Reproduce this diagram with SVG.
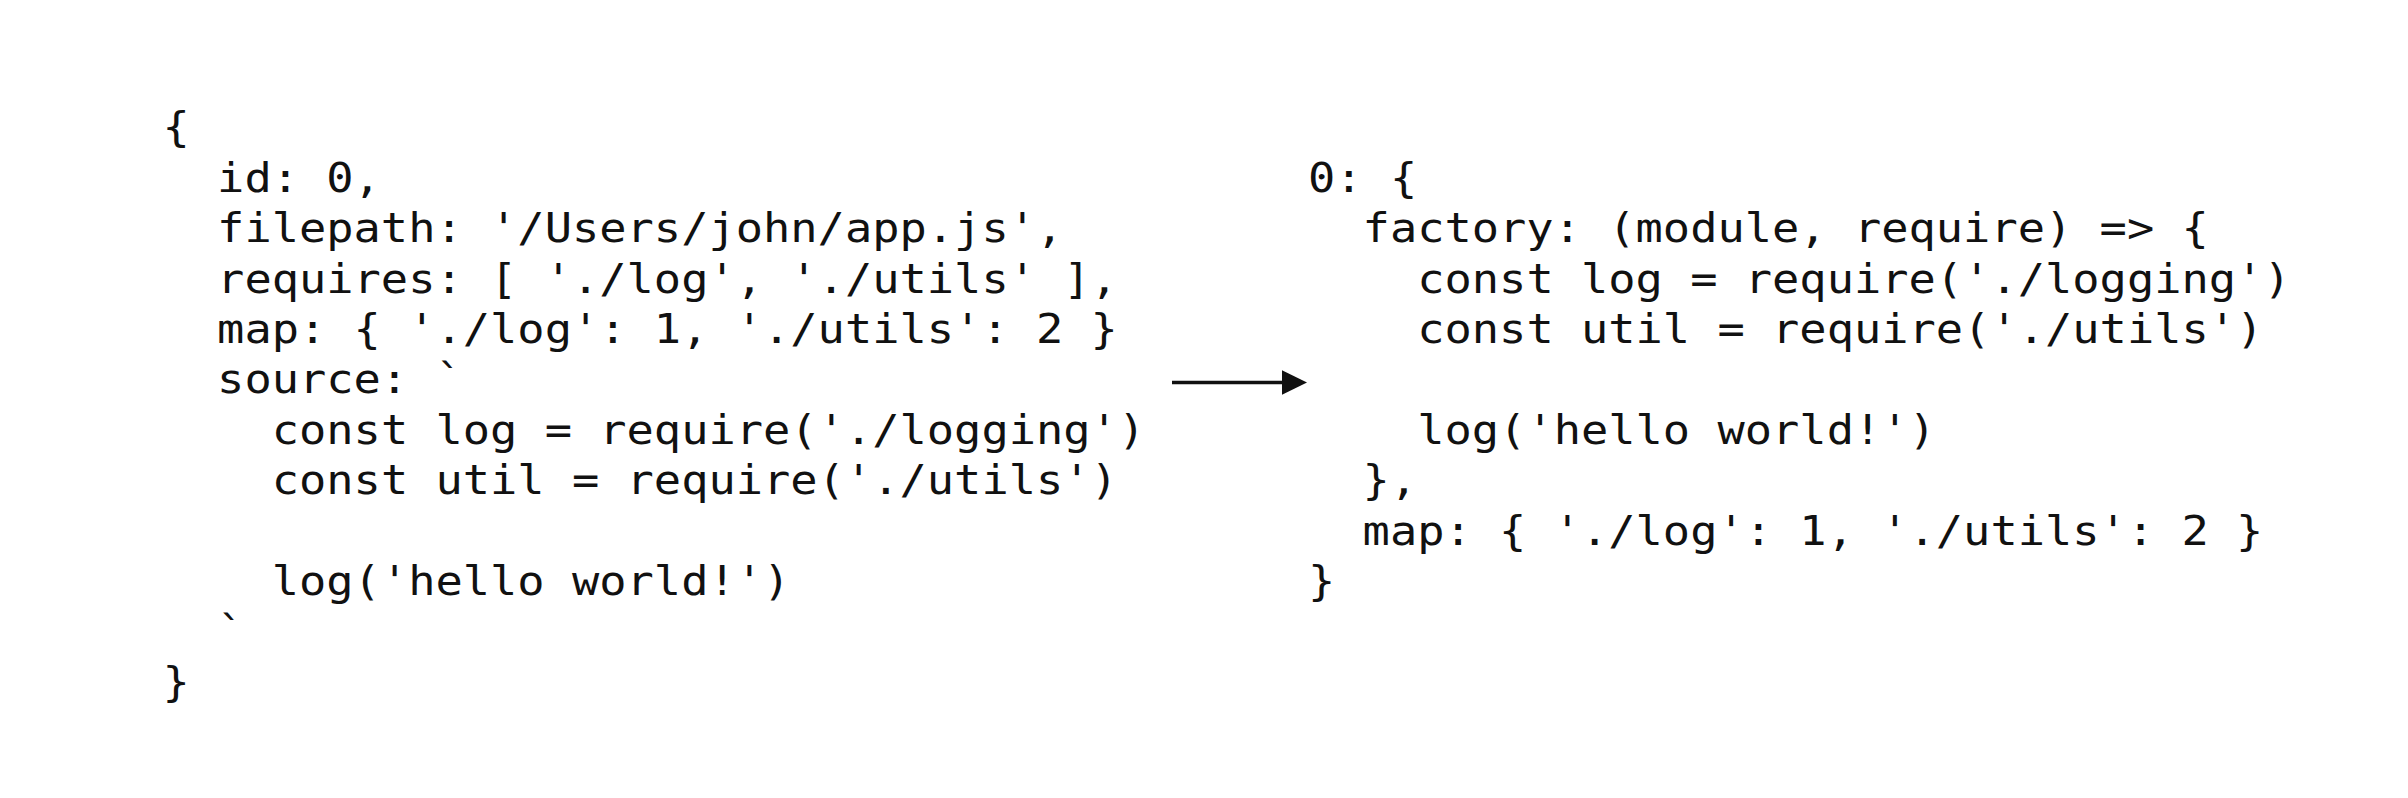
<svg xmlns="http://www.w3.org/2000/svg" width="2408" height="798" viewBox="0 0 2408 798">
  <style>
    .code { font-family: "DejaVu Sans Mono", "Liberation Mono", monospace; font-size: 40px; fill: #111111; }
    .conn { stroke: #111111; stroke-width: 3.5; fill: none; }
  </style>
  <defs>
    <marker id="arrowhead" markerUnits="userSpaceOnUse" markerWidth="26" markerHeight="25" refX="0" refY="12.25" orient="auto">
      <path d="M0,0 L25,12.25 L0,24.5 Z" fill="#111111"/>
    </marker>
  </defs>
  <rect x="0" y="0" width="2408" height="798" fill="#ffffff"/>

  <g id="module-object" transform="translate(162.5 0) scale(1.1337 1)">
    <text class="code" x="0" y="141.5">{</text>
    <text class="code" x="48.16" y="191.9">id: 0,</text>
    <text class="code" x="48.16" y="242.3">filepath: '/Users/john/app.js',</text>
    <text class="code" x="48.16" y="292.7">requires: [ './log', './utils' ],</text>
    <text class="code" x="48.16" y="343.1">map: { './log': 1, './utils': 2 }</text>
    <text class="code" x="48.16" y="393.5">source: `</text>
    <text class="code" x="96.32" y="443.9">const log = require('./logging')</text>
    <text class="code" x="96.32" y="494.3">const util = require('./utils')</text>
    <text class="code" x="96.32" y="595.1">log('hello world!')</text>
    <text class="code" x="48.16" y="645.5">`</text>
    <text class="code" x="0" y="695.9">}</text>
  </g>

  <g id="module-graph-entry" transform="translate(1308 0) scale(1.1337 1)">
    <text class="code" x="0" y="191.9">0: {</text>
    <text class="code" x="48.16" y="242.3">factory: (module, require) =&gt; {</text>
    <text class="code" x="96.32" y="292.7">const log = require('./logging')</text>
    <text class="code" x="96.32" y="343.1">const util = require('./utils')</text>
    <text class="code" x="96.32" y="443.9">log('hello world!')</text>
    <text class="code" x="48.16" y="494.3">},</text>
    <text class="code" x="48.16" y="544.7">map: { './log': 1, './utils': 2 }</text>
    <text class="code" x="0" y="595.1">}</text>
  </g>

  <g id="connectors">
    <line class="conn" x1="1172" y1="382.5" x2="1282" y2="382.5" marker-end="url(#arrowhead)"/>
  </g>
</svg>
